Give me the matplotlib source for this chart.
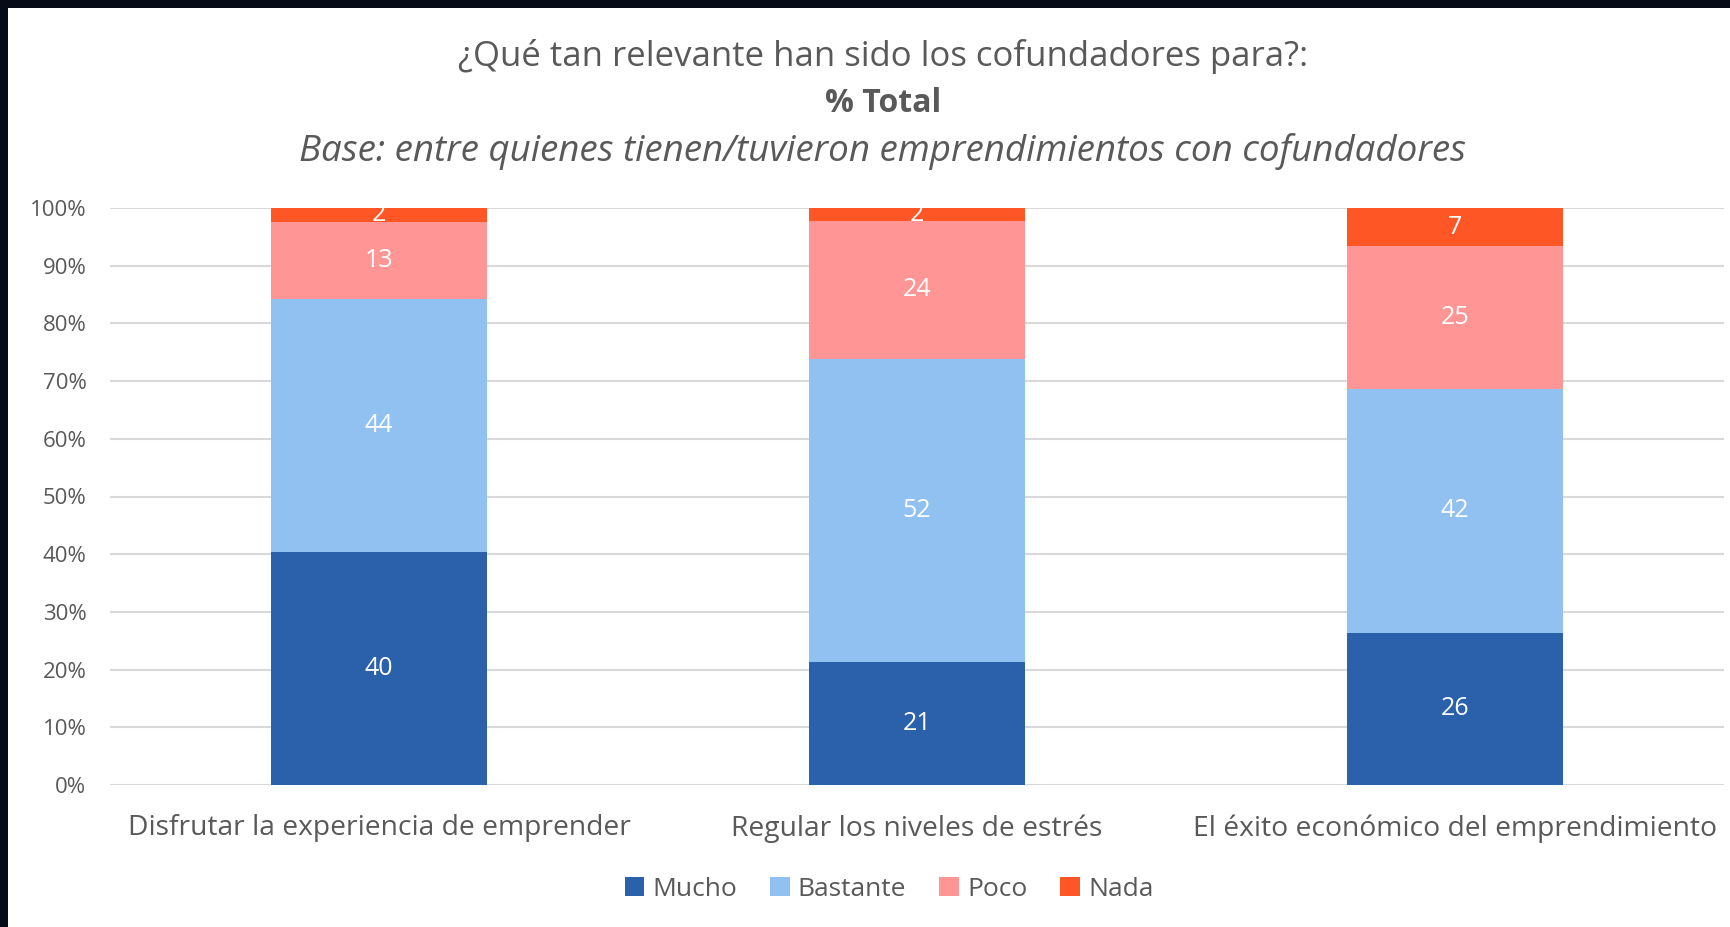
import numpy as np
import matplotlib
matplotlib.use("Agg")
import matplotlib.pyplot as plt
from matplotlib.patches import Rectangle

## data (shares in %, labels shown rounded)
categories = ["Disfrutar la experiencia de emprender",
              "Regular los niveles de estrés",
              "El éxito económico del emprendimiento"]
series_names = ["Mucho", "Bastante", "Poco", "Nada"]
mucho = [40.3, 21.4, 26.4]
bastante = [43.9, 52.4, 42.2]
poco = [13.4, 24.0, 24.8]
nada = [2.4, 2.2, 6.6]
colors = ["#2B61AB", "#91C1F0", "#FF9595", "#FF5625"]

plt.rcParams['font.family'] = ['Open Sans', 'DejaVu Sans']
txt = "#595959"

W, H = 1731, 927
fig = plt.figure(figsize=(W / 100, H / 100), dpi=100)
fig.patch.set_facecolor("#070b18")
# white card
fig.patches.append(Rectangle((8 / W, 0), 1, 1 - 8 / H, transform=fig.transFigure,
                             facecolor="white", edgecolor="none", zorder=-10))

ax = fig.add_axes([110 / W, (H - 785) / H, (1724 - 110) / W, (785 - 208) / H])
ax.set_facecolor("none")

vals = np.array([mucho, bastante, poco, nada])
x = np.arange(len(categories))
bottom = np.zeros(len(categories))
for i, name in enumerate(series_names):
    ax.bar(x, vals[i], 0.4, bottom=bottom, color=colors[i], label=name, zorder=3)
    for j in range(len(categories)):
        yc = bottom[j] + vals[i][j] / 2
        ax.text(x[j], yc, f"{vals[i][j]:.0f}", ha="center", va="center",
                color="white", fontsize=18, zorder=4)
    bottom += vals[i]

ax.set_xlim(-0.5, 2.5)
ax.set_ylim(0, 100)
ax.set_yticks(np.arange(0, 101, 10))
ax.set_yticklabels([f"{v}%" for v in range(0, 101, 10)], color=txt, fontsize=16)
ax.set_xticks(x)
ax.set_xticklabels(categories, color=txt, fontsize=20.3)
ax.tick_params(axis="both", length=0)
ax.tick_params(axis="y", pad=17)
ax.tick_params(axis="x", pad=21)
ax.grid(axis="y", color="#D9D9D9", linewidth=1.5, zorder=0)
for s in ax.spines.values():
    s.set_visible(False)

# titles
cx = 883 / W
fig.text(cx, 1 - 57 / H, "¿Qué tan relevante han sido los cofundadores para?:",
         ha="center", va="center", fontsize=25, color=txt)
fig.text(cx, 1 - 104 / H, "% Total", ha="center", va="center", fontsize=23,
         fontweight="bold", color=txt)
fig.text(cx, 1 - 152 / H, "Base: entre quienes tienen/tuvieron emprendimientos con cofundadores",
         ha="center", va="center", fontsize=26.5, style="italic", color=txt)

leg = fig.legend(loc="center", bbox_to_anchor=(889 / W, 1 - 889 / H), ncol=4,
                 frameon=False, fontsize=19, handlelength=0.75, handleheight=0.75,
                 handletextpad=0.3, columnspacing=1.25)
for t in leg.get_texts():
    t.set_color(txt)

fig.savefig("out.png", dpi=100, facecolor=fig.get_facecolor())
